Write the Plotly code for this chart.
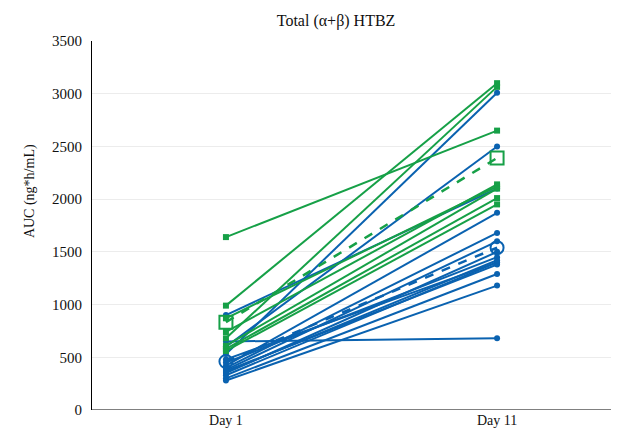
import plotly.graph_objects as go

categories = ["Day 1", "Day 11"]

# Individual subjects, group A (green squares)
green_day1 = [1640, 990, 680, 740, 870, 580, 560, 610]
green_day11 = [2650, 3100, 3065, 2140, 2120, 2010, 1950, 2100]

# Individual subjects, group B (blue circles)
blue_day1 = [530, 900, 600, 650, 420, 400, 380, 350, 450, 330, 370, 300, 280, 480, 360]
blue_day11 = [3010, 2100, 2500, 680, 1870, 1680, 1600, 1500, 1450, 1400, 1380, 1290, 1180, 1400, 1420]

# Group means
green_mean = [833, 2390]
blue_mean = [460, 1540]

y_ticks = [0, 500, 1000, 1500, 2000, 2500, 3000, 3500]

GREEN = "#16a047"
BLUE = "#0a62b0"
FONT = "Liberation Serif"
TXT = "#111"

pos = list(range(len(categories)))


def seg(d1, d11):
    xs, ys = [], []
    for a, b in zip(d1, d11):
        xs += [pos[0], pos[1], None]
        ys += [a, b, None]
    return xs, ys


fig = go.Figure()

bx, by = seg(blue_day1, blue_day11)
fig.add_trace(go.Scatter(x=bx, y=by, mode="lines+markers",
                         line=dict(color=BLUE, width=2),
                         marker=dict(symbol="circle", size=6, color=BLUE),
                         showlegend=False))

gx, gy = seg(green_day1, green_day11)
fig.add_trace(go.Scatter(x=gx, y=gy, mode="lines+markers",
                         line=dict(color=GREEN, width=2),
                         marker=dict(symbol="square", size=6, color=GREEN),
                         showlegend=False))

fig.add_trace(go.Scatter(x=pos, y=green_mean, mode="lines+markers",
                         line=dict(color=GREEN, width=2.5, dash="dash"),
                         marker=dict(symbol="square-open", size=13, color=GREEN,
                                     line=dict(width=2, color=GREEN)),
                         showlegend=False))

fig.add_trace(go.Scatter(x=pos, y=blue_mean, mode="lines+markers",
                         line=dict(color=BLUE, width=2.5, dash="dash"),
                         marker=dict(symbol="circle-open", size=13, color=BLUE,
                                     line=dict(width=2, color=BLUE)),
                         showlegend=False))

fig.update_layout(
    width=619, height=436,
    margin=dict(l=84, r=9, t=33, b=34),
    paper_bgcolor="white", plot_bgcolor="white",
    font=dict(family=FONT, size=14, color=TXT),
    title=dict(text="Total (α+β) HTBZ", x=0.464, xref="paper", xanchor="center",
               y=0.972, yanchor="middle", font=dict(family=FONT, size=16, color=TXT)),
    xaxis=dict(range=[-0.494, 1.446], tickvals=pos, ticktext=categories,
               showgrid=False, zeroline=False, showline=False, ticks="",
               tickfont=dict(family=FONT, size=14, color=TXT)),
    yaxis=dict(range=[0, 3500], tickvals=y_ticks, showgrid=True, gridcolor="#ececec",
               gridwidth=1, zeroline=False, showline=True, linecolor="black", linewidth=1,
               ticks="", tickfont=dict(family=FONT, size=15, color=TXT), ticklabelstandoff=6),
    annotations=[dict(text="AUC (ng*h/mL)", xref="paper", yref="paper",
                      x=-0.137, y=0.593, textangle=-90, showarrow=False,
                      font=dict(family=FONT, size=14, color=TXT))],
    shapes=[dict(type="line", xref="paper", yref="y", x0=0, x1=1, y0=0, y1=0,
                 line=dict(color="black", width=1))],
)

fig.write_html("out.html")
